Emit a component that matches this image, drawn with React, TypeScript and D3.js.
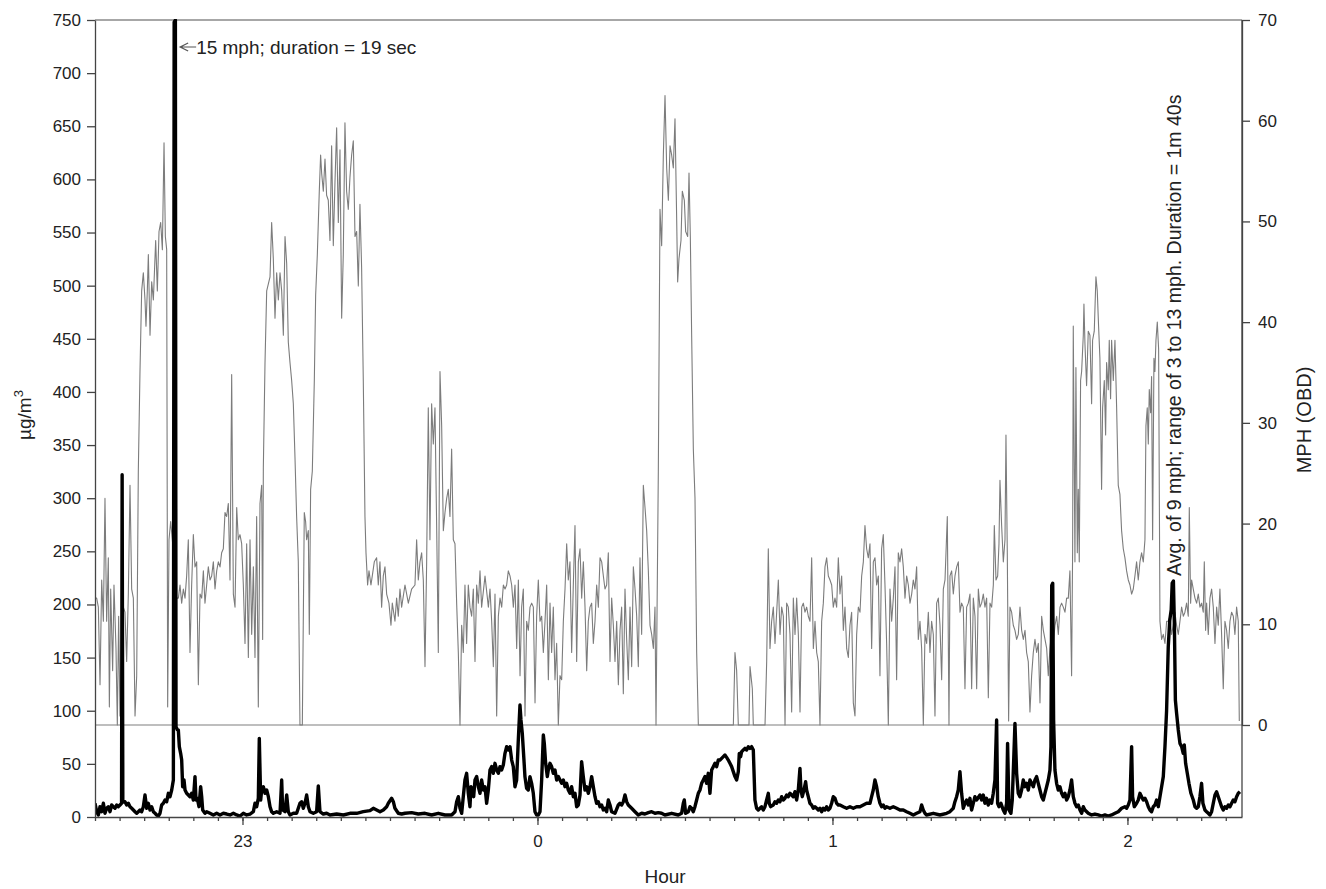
import React, { useEffect, useRef } from "react";
import * as d3 from "d3";

// time in minutes after 22:30, vehicle speed in mph (OBD)
const speedSeries: [number, number][] = [
  [0.0, 12.6], [0.34, 12.6], [0.68, 11.7], [1.02, 4.0], [1.36, 14.4], [1.7, 10.3], [2.03, 22.5], [2.37, 10.3], [2.71, 16.6], [2.92, 1.8],
  [3.19, 13.5], [3.59, 5.4], [3.86, 13.9], [4.27, 7.6], [4.54, 0], [4.81, 10.8], [5.08, 0.9], [5.42, 2.7], [5.76, 11.7], [6.1, 11.2],
  [6.44, 6.3], [6.78, 13.0], [7.12, 23.8], [7.46, 13.5], [7.8, 12.6], [8.14, 0.9], [8.48, 4.9], [8.81, 25.2], [9.15, 35.1], [9.49, 43.1],
  [9.83, 44.9], [10.17, 42.2], [10.37, 39.6], [10.64, 43.1], [10.85, 46.7], [11.19, 38.7], [11.53, 44.0], [11.87, 42.2], [12.34, 48.1], [12.68, 43.1],
  [13.02, 49.0], [13.36, 49.9], [13.7, 47.2], [14.04, 57.8], [14.31, 48.5], [14.58, 47.2], [14.78, 1.8], [15.05, 18.4], [15.39, 20.2], [15.8, 18.0],
  [16.07, 13.9], [16.48, 12.6], [16.95, 12.6], [17.29, 13.9], [17.63, 12.1], [17.97, 13.5], [18.31, 12.6], [18.64, 14.8], [18.98, 18.4], [19.32, 7.2],
  [19.66, 13.9], [20.0, 18.9], [20.34, 15.7], [20.68, 16.2], [21.02, 4.0], [21.36, 13.0], [21.7, 12.6], [22.04, 15.3], [22.37, 12.1], [22.71, 13.9],
  [23.05, 15.7], [23.39, 14.4], [23.73, 14.8], [24.07, 16.2], [24.41, 13.5], [24.75, 15.3], [25.09, 16.2], [25.43, 15.7], [25.76, 17.1], [26.1, 17.5],
  [26.44, 21.1], [26.78, 20.7], [27.12, 22.0], [27.46, 14.4], [27.8, 34.8], [28.14, 13.0], [28.48, 11.7], [28.82, 21.6], [29.15, 18.4], [29.49, 18.9],
  [29.83, 18.0], [30.17, 13.9], [30.51, 8.1], [30.85, 18.0], [31.19, 6.7], [31.53, 18.4], [31.87, 9.0], [32.21, 15.7], [32.54, 6.7], [32.88, 20.7],
  [33.22, 1.8], [33.56, 22.0], [33.9, 23.8], [34.1, 8.5], [34.24, 25.6], [34.58, 36.0], [34.92, 43.1], [35.6, 44.5], [35.93, 49.9], [36.27, 46.3],
  [36.61, 40.4], [36.95, 44.9], [37.29, 42.2], [37.63, 44.9], [37.97, 43.1], [38.31, 38.7], [38.65, 48.5], [38.99, 45.8], [39.32, 38.0], [39.66, 36.0],
  [40.0, 34.2], [40.34, 31.9], [40.68, 26.5], [41.01, 20.7], [41.35, 16.2], [41.69, 0], [42.17, 0], [42.57, 21.1], [42.84, 20.2], [43.05, 18.4],
  [43.39, 19.3], [43.59, 9.0], [43.86, 23.4], [44.2, 25.2], [44.61, 34.2], [44.88, 42.7], [45.22, 46.7], [45.62, 53.0], [45.89, 56.6], [46.1, 54.8],
  [46.44, 53.0], [46.78, 56.2], [47.11, 52.6], [47.45, 52.1], [47.79, 48.1], [48.13, 57.5], [48.47, 47.6], [48.81, 53.9], [49.15, 59.3], [49.49, 49.9],
  [49.83, 57.1], [50.17, 40.4], [50.5, 46.7], [50.84, 59.8], [51.18, 53.0], [51.52, 51.2], [51.86, 54.4], [52.2, 56.6], [52.54, 58.0], [52.88, 48.5],
  [53.22, 49.0], [53.56, 43.6], [53.89, 51.7], [54.23, 45.4], [54.57, 34.2], [54.91, 20.7], [55.12, 17.1], [55.45, 13.9], [55.73, 15.3], [56.13, 13.9],
  [56.4, 14.8], [56.81, 16.2], [57.28, 16.6], [57.62, 13.9], [57.96, 16.2], [58.3, 11.7], [58.64, 14.8], [58.98, 15.7], [59.32, 13.0], [59.79, 12.1],
  [60.2, 9.9], [60.47, 12.1], [61.01, 10.3], [61.35, 12.6], [61.69, 10.8], [62.03, 13.5], [62.37, 11.7], [63.05, 13.9], [63.73, 12.1], [64.4, 13.5],
  [65.08, 13.9], [65.42, 18.4], [65.76, 14.4], [66.1, 16.2], [66.44, 17.1], [66.78, 14.4], [67.12, 5.8], [67.46, 16.2], [67.79, 31.5], [68.13, 18.4],
  [68.47, 31.9], [68.81, 27.9], [69.15, 31.5], [69.49, 19.8], [69.83, 7.2], [70.17, 35.1], [70.51, 29.7], [70.85, 19.3], [71.19, 21.1], [71.53, 22.5],
  [71.86, 23.4], [72.2, 20.7], [72.54, 27.4], [72.88, 18.4], [73.22, 18.0], [73.56, 12.1], [73.9, 7.2], [74.24, 0], [74.58, 9.9], [74.91, 7.2],
  [75.25, 13.9], [75.59, 8.1], [75.93, 13.9], [76.27, 11.7], [76.61, 10.8], [76.95, 13.5], [77.29, 6.3], [77.63, 13.9], [77.97, 12.1], [78.31, 15.3],
  [78.64, 11.7], [79.33, 14.8], [80.01, 11.7], [80.34, 13.5], [80.68, 10.3], [81.02, 5.8], [81.36, 13.0], [81.7, 0.9], [82.04, 10.8], [82.38, 12.6],
  [82.72, 11.7], [83.06, 13.9], [83.4, 13.5], [83.73, 13.9], [84.07, 15.3], [84.41, 14.8], [84.75, 13.9], [85.09, 11.7], [85.43, 13.9], [85.77, 7.6],
  [86.11, 14.4], [86.45, 4.9], [86.78, 11.7], [87.12, 13.5], [87.46, 0.9], [87.8, 10.3], [88.14, 9.4], [88.48, 11.7], [88.82, 12.1], [89.16, 11.7],
  [89.5, 2.2], [89.83, 10.8], [90.17, 14.4], [90.51, 10.3], [90.85, 10.8], [91.19, 7.2], [91.53, 10.3], [91.87, 13.9], [92.21, 4.5], [92.55, 12.1],
  [92.88, 7.2], [93.22, 11.7], [93.56, 4.5], [93.9, 8.1], [94.24, 0], [94.58, 4.9], [94.92, 4.5], [95.26, 10.3], [95.6, 13.5], [95.94, 18.0],
  [96.27, 14.4], [96.61, 16.2], [96.95, 7.2], [97.29, 13.9], [97.63, 19.8], [97.97, 6.3], [98.31, 16.2], [98.65, 17.5], [98.99, 12.6], [99.33, 16.2],
  [99.67, 11.7], [100.01, 5.4], [100.34, 10.3], [100.68, 11.7], [101.02, 12.1], [101.36, 8.1], [101.7, 10.3], [102.04, 13.9], [102.38, 11.7], [102.72, 16.6],
  [103.06, 16.2], [103.4, 14.8], [103.73, 13.5], [104.07, 13.9], [104.41, 17.1], [104.75, 6.3], [105.09, 12.6], [105.43, 9.9], [105.77, 6.3], [106.11, 10.3],
  [106.45, 4.0], [106.79, 9.4], [107.12, 11.7], [107.46, 3.1], [107.8, 13.5], [108.14, 8.5], [108.48, 4.5], [108.82, 11.7], [109.16, 5.8], [109.5, 15.7],
  [109.84, 13.5], [110.18, 10.8], [110.51, 5.8], [110.85, 16.6], [111.19, 9.0], [111.53, 23.8], [111.87, 21.6], [112.21, 19.3], [112.55, 15.3], [112.89, 9.9],
  [113.23, 9.0], [113.57, 7.6], [113.9, 11.7], [114.11, 0], [114.58, 25.2], [114.92, 51.2], [115.26, 47.6], [115.6, 56.6], [115.94, 62.5], [116.28, 55.3],
  [116.62, 52.1], [116.96, 57.5], [117.29, 56.6], [117.63, 55.3], [117.97, 60.2], [118.31, 50.3], [118.51, 44.0], [118.78, 46.3], [119.19, 48.1], [119.46, 53.0],
  [119.87, 52.1], [120.14, 49.0], [120.55, 48.5], [120.82, 54.8], [121.09, 48.5], [121.36, 38.7], [121.7, 27.4], [122.04, 22.5], [122.38, 7.2], [122.72, 0],
  [129.84, 0], [130.17, 7.2], [130.51, 5.4], [130.85, 0], [133.02, 0], [133.23, 5.8], [133.7, 3.6], [133.9, 0], [136.28, 0], [136.62, 6.3],
  [136.95, 17.5], [137.29, 7.6], [137.63, 10.3], [137.97, 11.7], [138.31, 8.1], [138.65, 11.2], [138.99, 14.4], [139.33, 9.0], [139.67, 11.7], [140.01, 10.8],
  [140.35, 0], [140.68, 12.1], [141.02, 11.7], [141.36, 9.0], [141.7, 1.3], [142.04, 12.6], [142.38, 9.0], [142.72, 12.6], [143.06, 9.0], [143.4, 1.3],
  [143.74, 11.7], [144.07, 12.1], [144.41, 11.2], [144.75, 11.7], [145.09, 10.8], [145.43, 10.3], [145.77, 16.6], [146.11, 7.6], [146.45, 10.3], [146.79, 7.2],
  [147.12, 6.3], [147.46, 0], [147.8, 10.3], [148.14, 12.1], [148.48, 15.7], [148.82, 16.6], [149.16, 14.8], [149.5, 14.4], [149.84, 13.9], [150.17, 11.7],
  [150.51, 12.6], [150.85, 11.7], [151.19, 16.6], [151.53, 13.0], [151.87, 14.8], [152.21, 9.4], [152.55, 11.7], [152.89, 7.6], [153.23, 6.7], [153.56, 9.9],
  [153.9, 11.2], [154.24, 2.2], [154.58, 0.9], [154.92, 9.0], [155.26, 11.7], [155.6, 11.2], [155.94, 14.8], [156.28, 16.2], [156.61, 19.8], [156.95, 17.5],
  [157.29, 16.6], [157.63, 18.0], [157.97, 7.6], [158.31, 16.2], [158.65, 16.6], [158.99, 13.9], [159.33, 14.8], [159.66, 4.9], [160.0, 17.5], [160.34, 18.9],
  [160.68, 13.9], [161.02, 8.1], [161.36, 0], [161.7, 13.5], [162.04, 10.3], [162.38, 12.6], [162.72, 15.7], [163.05, 4.5], [163.39, 17.1], [163.73, 16.2],
  [164.07, 17.5], [164.41, 15.7], [164.75, 12.6], [165.09, 14.8], [165.43, 13.9], [165.77, 12.1], [166.11, 13.0], [166.44, 14.4], [166.78, 13.5], [167.12, 15.7],
  [167.46, 8.5], [167.8, 10.3], [168.14, 7.6], [168.48, 0], [168.82, 9.0], [169.16, 8.1], [169.5, 11.2], [169.83, 7.2], [170.17, 10.3], [170.51, 9.0],
  [170.85, 0.9], [171.19, 12.1], [171.53, 12.6], [171.87, 9.9], [172.21, 4.5], [172.55, 13.5], [172.89, 14.4], [173.36, 20.7], [173.7, 0], [173.9, 14.8],
  [174.24, 15.3], [174.58, 13.0], [174.92, 14.8], [175.26, 15.7], [175.6, 16.2], [175.94, 11.2], [176.27, 12.1], [176.61, 11.7], [176.95, 3.6], [177.29, 11.7],
  [177.63, 12.1], [177.97, 13.0], [178.31, 3.6], [178.65, 12.6], [178.99, 10.8], [179.33, 3.6], [179.67, 13.5], [180.0, 11.7], [180.34, 12.1], [180.68, 13.0],
  [181.02, 11.7], [181.36, 12.6], [181.7, 2.7], [182.04, 12.1], [182.38, 11.7], [182.72, 13.9], [182.92, 19.8], [183.26, 14.4], [183.6, 14.8], [183.87, 18.0],
  [184.07, 24.3], [184.41, 19.8], [184.75, 16.2], [185.09, 18.4], [185.29, 28.8], [185.56, 17.1], [185.83, 0.4], [186.1, 11.7], [186.44, 11.2], [186.78, 9.9],
  [187.12, 9.4], [187.46, 8.5], [187.8, 9.0], [188.14, 11.7], [188.48, 9.4], [188.82, 8.5], [189.16, 9.4], [189.49, 7.2], [189.83, 6.3], [190.17, 1.3],
  [190.51, 4.9], [190.85, 7.2], [191.19, 8.5], [191.53, 7.2], [191.87, 8.1], [192.21, 2.2], [192.55, 10.8], [192.89, 9.4], [193.23, 8.5], [193.57, 7.6],
  [193.9, 4.9], [194.24, 7.6], [194.58, 9.4], [194.92, 8.1], [195.26, 9.9], [195.6, 10.8], [195.94, 9.0], [196.28, 11.7], [196.61, 12.1], [196.95, 11.7],
  [197.29, 11.2], [197.63, 12.6], [197.97, 12.6], [198.3, 15.3], [198.64, 4.9], [198.85, 17.5], [198.98, 39.6], [199.32, 16.2], [199.52, 35.5], [199.8, 17.1],
  [200.0, 23.4], [200.2, 16.2], [200.47, 34.2], [200.68, 35.1], [201.02, 38.7], [201.15, 41.8], [201.36, 37.8], [201.69, 33.7], [202.03, 39.1], [202.37, 38.7],
  [202.71, 31.9], [202.91, 38.2], [203.25, 39.1], [203.59, 44.5], [203.86, 43.1], [204.13, 39.6], [204.4, 36.4], [204.74, 23.4], [204.95, 31.5], [205.29, 34.2],
  [205.56, 28.8], [205.76, 36.0], [206.1, 33.3], [206.3, 38.2], [206.57, 32.4], [206.78, 38.2], [207.12, 34.2], [207.46, 38.2], [207.8, 31.5], [208.13, 23.8],
  [208.47, 22.9], [208.81, 19.3], [209.15, 17.5], [209.49, 16.6], [209.83, 15.3], [210.17, 14.4], [210.51, 13.9], [210.85, 13.0], [211.19, 13.5], [211.52, 14.8],
  [211.86, 16.2], [212.2, 14.4], [212.54, 16.2], [212.88, 17.1], [213.22, 16.2], [213.56, 18.4], [213.76, 29.7], [214.03, 31.5], [214.24, 27.9], [214.44, 33.3],
  [214.71, 31.0], [214.91, 34.6], [215.12, 18.4], [215.39, 36.4], [215.59, 35.1], [215.8, 38.2], [216.07, 40.0], [216.34, 37.3], [216.61, 10.3], [216.95, 8.5],
  [217.29, 9.0], [217.63, 8.1], [217.97, 10.3], [218.31, 10.3], [218.65, 10.8], [218.98, 9.0], [219.32, 9.9], [219.66, 11.2], [220.0, 9.9], [220.34, 9.0],
  [220.68, 10.3], [221.02, 11.7], [221.36, 10.8], [221.69, 11.2], [222.03, 12.1], [222.37, 10.8], [222.58, 21.6], [222.85, 12.1], [223.05, 14.4], [223.39, 13.5],
  [223.73, 12.6], [224.07, 12.1], [224.41, 13.0], [224.75, 11.7], [225.08, 12.1], [225.42, 11.2], [225.63, 16.2], [225.9, 9.4], [226.1, 12.1], [226.44, 9.0],
  [226.78, 12.6], [227.12, 13.5], [227.46, 11.7], [227.8, 8.1], [228.14, 11.7], [228.47, 9.9], [228.81, 13.5], [229.15, 9.0], [229.49, 3.6], [229.83, 10.3],
  [230.17, 9.4], [230.51, 7.6], [230.85, 10.3], [231.19, 11.2], [231.53, 10.8], [231.86, 9.0], [232.2, 11.7], [232.54, 10.3], [232.75, 0.4],
];

// time in minutes after 22:30, particle concentration in µg/m³
const pmSeries: [number, number][] = [
  [0.0, 12.9], [0.34, 5.0], [0.68, 1.9], [1.02, 9.7], [1.36, 5.0], [1.7, 12.9], [2.03, 3.5], [2.37, 8.2], [2.71, 9.7], [3.05, 5.0],
  [3.39, 11.3], [3.73, 9.7], [4.07, 8.2], [4.41, 11.3], [4.75, 9.7], [5.08, 11.3], [5.4, 12.9], [5.52, 322], [5.66, 14.0], [6.1, 14.4],
  [6.44, 11.3], [6.78, 12.9], [7.12, 9.7], [7.46, 8.2], [7.8, 6.6], [8.14, 5.0], [8.48, 3.5], [8.81, 5.0], [9.15, 6.6], [9.49, 5.0],
  [9.83, 9.7], [10.17, 20.7], [10.51, 8.2], [10.85, 12.9], [11.19, 6.6], [11.53, 9.7], [11.87, 5.0], [12.21, 3.5], [12.54, 1.9], [12.88, 0.9],
  [13.22, 3.5], [13.56, 11.3], [13.9, 12.9], [14.24, 16.0], [14.58, 14.4], [14.92, 22.3], [15.26, 19.1], [15.6, 25.4], [15.94, 34.8], [16.1, 748],
  [16.35, 750], [16.48, 85.0], [16.75, 81.9], [16.95, 81.9], [17.15, 66.2], [17.42, 59.9], [17.63, 53.6], [17.83, 28.5], [18.1, 34.8], [18.31, 25.4],
  [18.64, 22.3], [18.98, 20.7], [19.32, 19.1], [19.66, 22.3], [20.0, 16.0], [20.34, 38.0], [20.54, 16.0], [20.81, 17.6], [21.15, 9.7], [21.49, 28.5],
  [21.7, 19.1], [21.9, 6.6], [22.37, 3.5], [22.71, 5.0], [23.39, 3.5], [24.07, 1.9], [24.75, 3.5], [25.43, 1.9], [26.1, 3.5], [26.78, 2.8],
  [27.46, 1.9], [28.14, 3.5], [28.82, 1.9], [29.49, 0.9], [30.17, 3.5], [30.85, 1.9], [31.53, 2.8], [32.21, 5.0], [32.54, 12.9], [32.88, 9.7],
  [33.22, 17.6], [33.42, 74.0], [33.7, 16.0], [33.9, 25.4], [34.24, 28.5], [34.58, 22.3], [34.92, 25.4], [35.26, 19.1], [35.6, 9.7], [35.93, 5.0],
  [36.27, 3.5], [36.95, 5.0], [37.63, 3.5], [37.97, 34.8], [38.17, 6.6], [38.65, 5.0], [38.99, 20.7], [39.32, 5.0], [39.66, 1.9], [40.34, 3.5],
  [41.01, 3.5], [41.69, 12.9], [42.03, 14.4], [42.37, 8.2], [42.71, 12.9], [43.05, 20.7], [43.39, 9.7], [43.73, 5.0], [44.41, 3.5], [45.08, 5.0],
  [45.42, 29.2], [45.76, 5.0], [46.44, 2.8], [47.12, 3.5], [47.8, 1.9], [49.15, 2.8], [50.51, 1.9], [51.86, 3.5], [53.22, 3.5], [54.57, 5.0],
  [55.93, 6.0], [56.61, 8.2], [57.29, 6.6], [57.97, 5.0], [58.64, 6.6], [59.32, 9.7], [59.66, 12.9], [60.34, 17.6], [60.68, 14.4], [61.01, 8.2],
  [61.69, 3.5], [62.37, 2.8], [63.05, 3.5], [64.4, 4.1], [65.76, 2.8], [67.12, 3.5], [68.47, 1.9], [69.83, 3.5], [71.19, 1.9], [72.54, 1.9],
  [73.22, 5.0], [73.56, 14.4], [73.9, 19.1], [74.24, 8.2], [74.58, 3.5], [74.91, 19.1], [75.25, 34.8], [75.59, 41.1], [75.93, 22.3], [76.27, 9.7],
  [76.47, 28.5], [76.74, 25.4], [77.02, 19.1], [77.29, 34.8], [77.63, 38.0], [77.97, 28.5], [78.31, 22.3], [78.64, 34.8], [78.98, 25.4], [79.32, 28.5],
  [79.66, 12.9], [80.0, 25.4], [80.34, 44.2], [80.68, 47.4], [81.02, 41.1], [81.36, 50.5], [81.7, 44.2], [82.04, 41.1], [82.37, 47.4], [82.71, 44.2],
  [83.05, 48.9], [83.39, 59.9], [83.73, 66.2], [84.07, 63.0], [84.41, 66.2], [84.75, 53.6], [85.08, 47.4], [85.42, 28.5], [85.76, 34.8], [86.1, 72.5],
  [86.44, 105.4], [86.64, 91.3], [86.91, 78.7], [87.25, 53.6], [87.45, 38.0], [87.79, 27.0], [88.13, 25.4], [88.47, 38.0], [88.81, 31.7], [89.15, 22.3],
  [89.49, 5.0], [89.83, 1.9], [90.17, 1.9], [90.51, 5.0], [90.85, 34.8], [91.19, 77.2], [91.39, 69.3], [91.66, 50.5], [92.0, 38.0], [92.2, 44.2],
  [92.54, 50.5], [92.88, 47.4], [93.22, 41.1], [93.56, 44.2], [93.9, 34.8], [94.24, 38.0], [94.58, 34.8], [94.92, 31.7], [95.26, 34.8], [95.59, 28.5],
  [95.93, 31.7], [96.27, 25.4], [96.61, 22.3], [96.95, 28.5], [97.29, 19.1], [97.63, 22.3], [97.97, 9.7], [98.31, 11.3], [98.65, 20.7], [98.98, 52.1],
  [99.32, 38.0], [99.66, 25.4], [100.0, 28.5], [100.34, 22.3], [100.68, 28.5], [101.02, 38.0], [101.36, 28.5], [101.7, 19.1], [102.03, 12.9], [102.37, 14.4],
  [102.71, 9.7], [103.05, 11.3], [103.39, 6.6], [103.73, 8.2], [104.07, 5.0], [104.41, 16.0], [104.75, 11.3], [105.08, 5.0], [105.76, 3.5], [106.44, 11.3],
  [106.78, 12.9], [107.12, 11.3], [107.46, 14.4], [107.8, 20.7], [108.14, 14.4], [108.47, 11.3], [109.15, 8.2], [109.83, 5.0], [110.51, 1.9], [111.19, 3.5],
  [111.86, 2.8], [112.54, 4.1], [113.22, 5.0], [113.9, 3.5], [114.58, 4.1], [115.25, 3.5], [115.93, 1.9], [117.29, 3.5], [118.64, 1.9], [119.32, 3.5],
  [119.66, 12.9], [119.86, 16.0], [120.13, 3.5], [120.68, 5.0], [121.01, 9.7], [121.35, 8.2], [121.69, 5.0], [122.03, 9.7], [122.37, 16.0], [122.71, 22.3],
  [123.05, 25.4], [123.39, 31.7], [123.73, 34.8], [124.07, 38.0], [124.4, 31.7], [124.74, 41.1], [125.08, 22.3], [125.42, 44.2], [125.76, 47.4], [126.1, 50.5],
  [126.44, 47.4], [126.78, 53.6], [127.12, 53.6], [127.46, 55.2], [127.8, 56.8], [128.13, 58.3], [128.47, 56.1], [128.81, 53.6], [129.15, 50.5], [129.49, 47.4],
  [129.83, 42.7], [130.17, 38.0], [130.51, 34.8], [130.85, 42.7], [131.05, 59.9], [131.32, 56.8], [131.52, 61.5], [131.86, 63.0], [132.2, 64.6], [132.54, 63.0],
  [132.88, 66.2], [133.22, 64.6], [133.56, 66.2], [133.9, 63.0], [134.23, 16.0], [134.57, 8.2], [134.91, 6.6], [135.25, 8.2], [135.59, 9.7], [135.93, 6.6],
  [136.27, 9.7], [136.61, 16.0], [136.95, 22.3], [137.15, 12.9], [137.42, 9.7], [137.96, 11.3], [138.3, 14.4], [138.64, 12.9], [138.98, 16.0], [139.32, 14.4],
  [139.66, 19.1], [140.0, 16.0], [140.34, 17.6], [140.68, 20.7], [141.01, 19.1], [141.35, 22.3], [141.69, 20.7], [142.03, 19.1], [142.37, 23.8], [142.71, 16.0],
  [143.05, 25.4], [143.39, 45.8], [143.59, 25.4], [143.86, 19.1], [144.2, 25.4], [144.54, 33.2], [144.74, 25.4], [145.08, 19.1], [145.42, 12.9], [145.76, 11.3],
  [146.1, 8.2], [146.44, 9.7], [146.78, 8.2], [147.12, 6.6], [147.46, 8.2], [147.8, 5.0], [148.13, 8.2], [148.47, 6.6], [148.81, 9.7], [149.15, 6.6],
  [149.49, 8.2], [149.83, 12.9], [150.17, 19.1], [150.51, 17.6], [150.85, 12.9], [151.19, 11.3], [151.52, 11.3], [152.2, 9.7], [152.88, 8.2], [153.56, 9.7],
  [154.24, 8.2], [154.91, 9.7], [155.59, 9.7], [156.27, 11.3], [156.95, 12.9], [157.63, 12.9], [157.96, 19.1], [158.3, 25.4], [158.64, 34.8], [158.98, 28.5],
  [159.32, 19.1], [159.66, 12.9], [160.0, 9.7], [160.34, 11.3], [160.68, 8.2], [161.01, 9.7], [161.69, 8.2], [162.37, 9.7], [163.05, 8.2], [163.73, 6.6],
  [164.41, 6.6], [165.08, 5.0], [165.76, 3.5], [166.44, 1.9], [167.12, 3.5], [167.8, 5.0], [168.14, 11.3], [168.47, 6.6], [168.81, 3.5], [169.15, 1.9],
  [170.51, 3.5], [171.86, 1.9], [173.22, 3.5], [173.9, 5.0], [174.57, 8.2], [174.91, 14.4], [175.25, 19.1], [175.59, 25.4], [175.93, 42.7], [176.27, 22.3],
  [176.61, 8.2], [176.95, 12.9], [177.29, 16.0], [177.63, 11.3], [177.96, 17.6], [178.3, 6.6], [178.64, 12.9], [178.98, 19.1], [179.32, 16.0], [180.0, 20.7],
  [180.34, 16.0], [180.68, 20.7], [181.01, 12.9], [181.35, 17.6], [181.69, 11.3], [182.03, 16.0], [182.37, 12.9], [182.71, 22.3], [183.05, 34.8], [183.39, 91.3],
  [183.59, 12.9], [183.86, 9.7], [184.27, 12.9], [184.74, 6.6], [185.08, 3.5], [185.42, 12.9], [185.62, 69.3], [185.9, 6.6], [186.3, 3.5], [186.57, 16.0],
  [186.84, 50.5], [187.12, 88.1], [187.46, 41.1], [187.79, 22.3], [188.13, 19.1], [188.47, 25.4], [188.81, 34.8], [189.15, 28.5], [189.49, 31.7], [189.83, 25.4],
  [190.17, 34.8], [190.51, 31.7], [190.85, 28.5], [191.19, 34.8], [191.52, 38.0], [191.86, 31.7], [192.2, 25.4], [192.54, 19.1], [192.88, 16.0], [193.22, 22.3],
  [193.56, 28.5], [193.9, 34.8], [194.24, 44.2], [194.44, 66.2], [194.6, 218], [194.8, 220], [194.98, 91.3], [195.25, 44.2], [195.59, 31.7], [195.93, 25.4],
  [196.27, 28.5], [196.61, 22.3], [196.95, 19.1], [197.29, 22.3], [197.63, 16.0], [197.96, 19.1], [198.3, 25.4], [198.64, 34.8], [198.98, 19.1], [199.32, 12.9],
  [199.66, 9.7], [200.0, 11.3], [200.34, 6.6], [200.68, 3.5], [201.02, 9.7], [201.35, 6.6], [202.03, 3.5], [202.71, 1.9], [203.39, 2.8], [204.07, 1.9],
  [204.74, 0.9], [205.42, 1.9], [206.1, 0.9], [206.78, 1.9], [207.46, 3.5], [208.13, 5.0], [208.81, 8.2], [209.49, 9.7], [209.83, 8.2], [210.17, 11.3],
  [210.51, 16.0], [210.85, 66.2], [211.05, 19.1], [211.39, 9.7], [211.86, 12.9], [212.2, 16.0], [212.54, 22.3], [212.88, 19.1], [213.22, 16.0], [213.56, 17.6],
  [213.9, 14.4], [214.24, 9.7], [214.57, 6.6], [214.91, 5.0], [215.25, 9.7], [215.59, 11.3], [215.93, 16.0], [216.27, 9.7], [216.61, 19.1], [216.95, 28.5],
  [217.29, 38.0], [217.63, 66.2], [217.96, 100], [218.3, 160], [218.6, 185], [218.9, 195], [219.1, 220], [219.35, 222], [219.55, 180], [219.75, 110],
  [220.0, 97.6], [220.34, 81.9], [220.68, 69.3], [221.02, 66.2], [221.35, 59.9], [221.56, 67.8], [221.83, 50.5], [222.17, 41.1], [222.51, 31.7], [222.91, 22.3],
  [223.39, 16.0], [223.73, 9.7], [224.07, 8.2], [224.41, 9.7], [224.74, 19.1], [225.08, 31.7], [225.35, 12.9], [225.76, 6.6], [226.1, 5.0], [226.44, 3.5],
  [226.78, 1.9], [227.12, 5.0], [227.46, 12.9], [227.8, 20.7], [228.13, 23.8], [228.47, 19.1], [228.81, 14.4], [229.15, 9.7], [229.49, 6.6], [229.83, 9.7],
  [230.17, 8.2], [230.51, 11.3], [230.85, 9.7], [231.19, 12.9], [231.52, 16.0], [231.86, 14.4], [232.2, 19.1], [232.54, 22.3], [232.88, 23.8],
];

const hourTicks = [30, 90, 150, 210];
const hourLabels = ["23", "0", "1", "2"];
const pmTicks = [0, 50, 100, 150, 200, 250, 300, 350, 400, 450, 500, 550, 600, 650, 700, 750];
const mphTicks = [0, 10, 20, 30, 40, 50, 60, 70];

const FONT = "'Liberation Sans', Arial, Helvetica, sans-serif";

const App = () => {
  const ref = useRef<SVGSVGElement>(null);

  const width = 1326;
  const height = 889;
  const left = 95;
  const right = 1242;
  const top = 20;
  const bottom = 817;
  const mphZeroY = 725;

  useEffect(() => {
    const svg = d3.select(ref.current);
    svg.selectAll("*").remove();

    const x = d3.scaleLinear().domain([0, 233.3]).range([left, right]);
    const yPm = d3.scaleLinear().domain([0, 750]).range([bottom, top]);
    const yMph = d3.scaleLinear().domain([0, 70]).range([mphZeroY, top]);

    svg.append("rect").attr("width", width).attr("height", height).attr("fill", "#fff");

    svg
      .append("defs")
      .append("clipPath")
      .attr("id", "plotClip")
      .append("rect")
      .attr("x", left)
      .attr("y", top - 1)
      .attr("width", right - left)
      .attr("height", bottom - top + 1);

    // frame: top border and zero-mph line
    svg.append("line").attr("x1", left).attr("x2", right).attr("y1", top).attr("y2", top)
      .attr("stroke", "#8a8a8a").attr("stroke-width", 1.5);
    svg.append("line").attr("x1", left).attr("x2", right).attr("y1", yMph(0)).attr("y2", yMph(0))
      .attr("stroke", "#a8a8a8").attr("stroke-width", 1.5);

    const plot = svg.append("g").attr("clip-path", "url(#plotClip)");

    const speedLine = d3.line<[number, number]>()
      .x((d) => x(d[0]))
      .y((d) => yMph(d[1]));
    plot.append("path")
      .datum(speedSeries)
      .attr("d", speedLine)
      .attr("fill", "none")
      .attr("stroke", "#7c7c7c")
      .attr("stroke-width", 1.1)
      .attr("stroke-linejoin", "round");

    const pmLine = d3.line<[number, number]>()
      .x((d) => x(d[0]))
      .y((d) => yPm(d[1]));
    plot.append("path")
      .datum(pmSeries)
      .attr("d", pmLine)
      .attr("fill", "none")
      .attr("stroke", "#000")
      .attr("stroke-width", 3.4)
      .attr("stroke-linejoin", "round");

    const styleAxis = (g) => {
      g.selectAll("path").attr("stroke", "#444").attr("stroke-width", 1.3);
      g.selectAll("line").attr("stroke", "#444").attr("stroke-width", 1.3);
      g.selectAll("text").attr("font-family", FONT).attr("font-size", 17).attr("fill", "#222");
    };

    // left axis
    svg.append("g")
      .attr("transform", `translate(${left},0)`)
      .call(d3.axisLeft(yPm).tickValues(pmTicks).tickFormat(d3.format("d")).tickSize(8).tickSizeOuter(0).tickPadding(6))
      .call(styleAxis);

    // right axis
    svg.append("line").attr("x1", right).attr("x2", right).attr("y1", top).attr("y2", bottom)
      .attr("stroke", "#444").attr("stroke-width", 1.3);
    svg.append("g")
      .attr("transform", `translate(${right},0)`)
      .call(d3.axisRight(yMph).tickValues(mphTicks).tickFormat(d3.format("d")).tickSize(8).tickSizeOuter(0).tickPadding(8))
      .call(styleAxis);

    // bottom axis: 5-minute minor ticks, hour labels
    svg.append("g")
      .attr("transform", `translate(0,${bottom})`)
      .call(d3.axisBottom(x).tickValues(d3.range(0, 233, 5)).tickFormat(() => "").tickSize(4).tickSizeOuter(0))
      .call(styleAxis);
    svg.append("g")
      .attr("transform", `translate(0,${bottom})`)
      .call(d3.axisBottom(x).tickValues(hourTicks).tickFormat((d, i) => hourLabels[i]).tickSize(8).tickSizeOuter(0).tickPadding(10))
      .call(styleAxis)
      .call((g) => g.select(".domain").remove());

    // axis titles
    svg.append("text")
      .attr("x", 665)
      .attr("y", 883)
      .attr("text-anchor", "middle")
      .attr("font-family", FONT)
      .attr("font-size", 19)
      .attr("fill", "#222")
      .text("Hour");

    const yTitle = svg.append("text")
      .attr("transform", "translate(31,415) rotate(-90)")
      .attr("text-anchor", "middle")
      .attr("font-family", FONT)
      .attr("font-size", 19)
      .attr("fill", "#222");
    yTitle.append("tspan").text("µg/m");
    yTitle.append("tspan").attr("dy", -8).attr("font-size", 13).text("3");

    svg.append("text")
      .attr("transform", "translate(1311,420) rotate(-90)")
      .attr("text-anchor", "middle")
      .attr("font-family", FONT)
      .attr("font-size", 20)
      .attr("fill", "#222")
      .text("MPH (OBD)");

    // annotations
    const arrowY = 47;
    const ax = x(16.3) + 5;
    svg.append("path")
      .attr("d", `M${ax + 16},${arrowY} L${ax},${arrowY} M${ax + 8},${arrowY - 4} L${ax},${arrowY} L${ax + 8},${arrowY + 4}`)
      .attr("fill", "none")
      .attr("stroke", "#555")
      .attr("stroke-width", 1.2);
    svg.append("text")
      .attr("x", ax + 16)
      .attr("y", 54)
      .attr("font-family", FONT)
      .attr("font-size", 19)
      .attr("fill", "#222")
      .text("15 mph; duration = 19 sec");

    svg.append("text")
      .attr("transform", `translate(${x(219.3) + 8},576) rotate(-90)`)
      .attr("font-family", FONT)
      .attr("font-size", 19.5)
      .attr("fill", "#222")
      .text("Avg. of 9 mph; range of 3 to 13 mph. Duration = 1m 40s");
  }, []);

  return (
    <div style={{ position: "absolute", left: 0, top: 0 }}>
      <svg ref={ref} width={width} height={height}></svg>
    </div>
  );
};

export default App;
